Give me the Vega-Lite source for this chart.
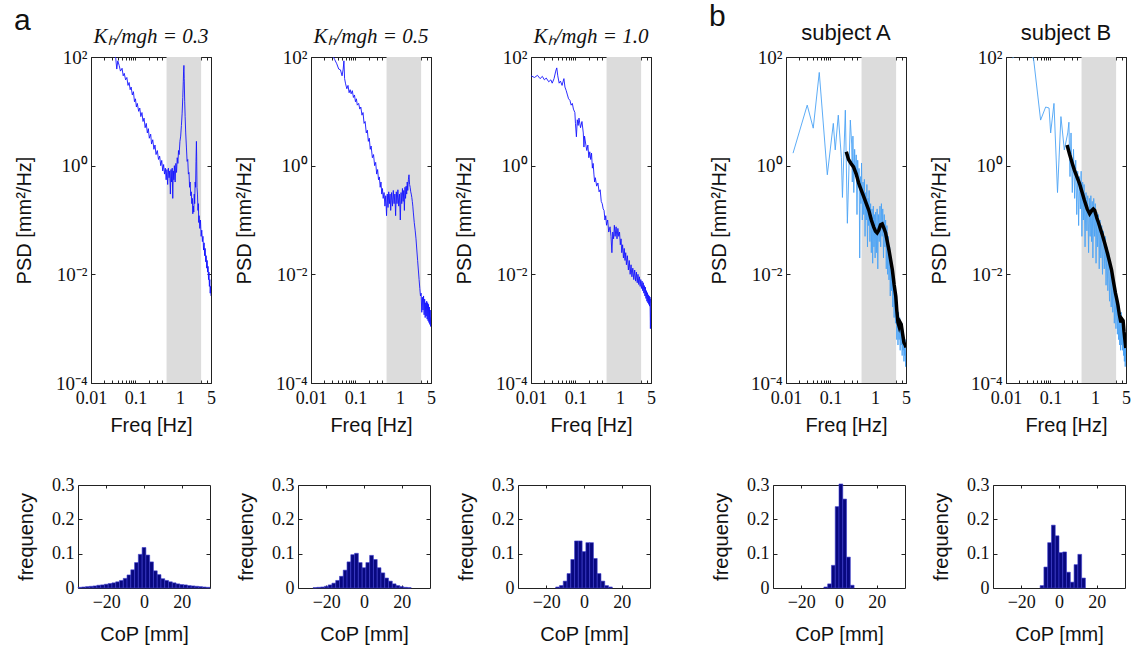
{
 "$schema": "https://vega.github.io/schema/vega-lite/v6.json",
 "padding": {"left": 14, "top": 2, "right": 0, "bottom": 2},
 "background": "white",
 "config": {
  "view": {"stroke": null},
  "axis": {"grid": false, "domainColor": "#222", "tickColor": "#222", "labelFont": "Liberation Serif", "labelFontSize": 18, "labelColor": "#111", "titleFont": "Liberation Sans", "titleFontSize": 20, "titleFontWeight": "normal", "titleColor": "#111", "labelFlush": false, "labelOverlap": false},
  "title": {"font": "Liberation Sans", "fontWeight": "normal", "color": "#111"}
 },
 "datasets": {
  "band": [{"lo": 0.5, "hi": 3}],
  "psd1": [{"f":0.01,"p":900},{"f":0.015,"p":500},{"f":0.02,"p":350},{"f":0.025,"p":220},{"f":0.03,"p":140},{"f":0.033,"p":110},{"f":0.036,"p":95},{"f":0.038,"p":60},{"f":0.04,"p":85},{"f":0.043,"p":70},{"f":0.046,"p":55},{"f":0.05,"p":62},{"f":0.053,"p":45},{"f":0.056,"p":50},{"f":0.06,"p":38},{"f":0.064,"p":42},{"f":0.068,"p":30},{"f":0.072,"p":34},{"f":0.076,"p":25},{"f":0.08,"p":28},{"f":0.085,"p":20},{"f":0.09,"p":23},{"f":0.095,"p":15},{"f":0.1,"p":17},{"f":0.105,"p":12},{"f":0.11,"p":14},{"f":0.118,"p":10},{"f":0.125,"p":11.5},{"f":0.132,"p":8},{"f":0.14,"p":9.5},{"f":0.148,"p":6.5},{"f":0.156,"p":7.5},{"f":0.165,"p":5},{"f":0.175,"p":6},{"f":0.185,"p":4},{"f":0.195,"p":4.8},{"f":0.205,"p":3.2},{"f":0.22,"p":3.8},{"f":0.23,"p":2.5},{"f":0.245,"p":3},{"f":0.26,"p":2},{"f":0.275,"p":2.4},{"f":0.29,"p":1.6},{"f":0.31,"p":1.9},{"f":0.33,"p":1.3},{"f":0.35,"p":1.5},{"f":0.37,"p":1},{"f":0.39,"p":1.25},{"f":0.41,"p":0.8},{"f":0.43,"p":1.05},{"f":0.45,"p":0.7},{"f":0.47,"p":0.9},{"f":0.49,"p":0.55},{"f":0.51,"p":0.85},{"f":0.53,"p":0.45},{"f":0.55,"p":0.9},{"f":0.57,"p":0.6},{"f":0.59,"p":0.8},{"f":0.61,"p":0.3},{"f":0.63,"p":0.85},{"f":0.65,"p":0.5},{"f":0.67,"p":0.9},{"f":0.69,"p":0.25},{"f":0.71,"p":0.8},{"f":0.73,"p":0.55},{"f":0.75,"p":1},{"f":0.78,"p":0.5},{"f":0.81,"p":1.1},{"f":0.84,"p":0.75},{"f":0.87,"p":1.4},{"f":0.9,"p":1.1},{"f":0.93,"p":1.9},{"f":0.96,"p":1.6},{"f":1,"p":2.8},{"f":1.04,"p":3.5},{"f":1.08,"p":5.5},{"f":1.12,"p":9},{"f":1.16,"p":18},{"f":1.19,"p":35},{"f":1.21,"p":55},{"f":1.23,"p":70},{"f":1.25,"p":40},{"f":1.28,"p":15},{"f":1.31,"p":8},{"f":1.35,"p":4},{"f":1.4,"p":2.2},{"f":1.45,"p":1.2},{"f":1.5,"p":1.3},{"f":1.55,"p":0.7},{"f":1.6,"p":0.75},{"f":1.65,"p":0.4},{"f":1.7,"p":0.5},{"f":1.75,"p":0.28},{"f":1.8,"p":0.33},{"f":1.85,"p":0.2},{"f":1.9,"p":0.25},{"f":1.95,"p":0.13},{"f":2,"p":0.18},{"f":2.05,"p":0.14},{"f":2.1,"p":0.3},{"f":2.15,"p":0.2},{"f":2.2,"p":0.5},{"f":2.25,"p":0.4},{"f":2.3,"p":1.2},{"f":2.35,"p":2.8},{"f":2.38,"p":1.5},{"f":2.42,"p":0.4},{"f":2.48,"p":0.3},{"f":2.55,"p":0.15},{"f":2.6,"p":0.2},{"f":2.65,"p":0.09},{"f":2.7,"p":0.12},{"f":2.8,"p":0.07},{"f":2.9,"p":0.1},{"f":3,"p":0.05},{"f":3.1,"p":0.065},{"f":3.2,"p":0.04},{"f":3.3,"p":0.05},{"f":3.4,"p":0.028},{"f":3.5,"p":0.038},{"f":3.6,"p":0.022},{"f":3.7,"p":0.03},{"f":3.8,"p":0.017},{"f":3.9,"p":0.022},{"f":4,"p":0.013},{"f":4.1,"p":0.018},{"f":4.2,"p":0.011},{"f":4.3,"p":0.014},{"f":4.4,"p":0.008},{"f":4.5,"p":0.011},{"f":4.6,"p":0.006},{"f":4.7,"p":0.008},{"f":4.8,"p":0.0045},{"f":4.9,"p":0.006},{"f":5,"p":0.004}],
  "psd2": [{"f":0.01,"p":600},{"f":0.015,"p":350},{"f":0.02,"p":250},{"f":0.025,"p":160},{"f":0.03,"p":110},{"f":0.034,"p":90},{"f":0.038,"p":75},{"f":0.042,"p":60},{"f":0.046,"p":58},{"f":0.05,"p":45},{"f":0.053,"p":60},{"f":0.055,"p":85},{"f":0.057,"p":40},{"f":0.06,"p":32},{"f":0.064,"p":26},{"f":0.068,"p":30},{"f":0.072,"p":22},{"f":0.076,"p":25},{"f":0.08,"p":21},{"f":0.085,"p":24},{"f":0.09,"p":18},{"f":0.095,"p":20},{"f":0.1,"p":15},{"f":0.105,"p":17},{"f":0.11,"p":13},{"f":0.118,"p":14},{"f":0.125,"p":11},{"f":0.132,"p":12},{"f":0.14,"p":8.5},{"f":0.148,"p":9.5},{"f":0.156,"p":6},{"f":0.165,"p":6.5},{"f":0.175,"p":4},{"f":0.185,"p":4.5},{"f":0.195,"p":2.8},{"f":0.205,"p":3.2},{"f":0.215,"p":2},{"f":0.225,"p":2.3},{"f":0.24,"p":1.4},{"f":0.255,"p":1.6},{"f":0.27,"p":1},{"f":0.285,"p":1.15},{"f":0.3,"p":0.7},{"f":0.315,"p":0.85},{"f":0.33,"p":0.55},{"f":0.345,"p":0.62},{"f":0.36,"p":0.4},{"f":0.375,"p":0.5},{"f":0.39,"p":0.3},{"f":0.405,"p":0.38},{"f":0.42,"p":0.25},{"f":0.44,"p":0.32},{"f":0.46,"p":0.18},{"f":0.48,"p":0.28},{"f":0.5,"p":0.12},{"f":0.52,"p":0.3},{"f":0.54,"p":0.17},{"f":0.56,"p":0.33},{"f":0.58,"p":0.2},{"f":0.6,"p":0.3},{"f":0.62,"p":0.15},{"f":0.65,"p":0.32},{"f":0.68,"p":0.18},{"f":0.71,"p":0.35},{"f":0.74,"p":0.2},{"f":0.77,"p":0.3},{"f":0.8,"p":0.12},{"f":0.83,"p":0.33},{"f":0.86,"p":0.2},{"f":0.9,"p":0.36},{"f":0.94,"p":0.18},{"f":0.98,"p":0.3},{"f":1.02,"p":0.1},{"f":1.06,"p":0.32},{"f":1.1,"p":0.2},{"f":1.14,"p":0.38},{"f":1.18,"p":0.22},{"f":1.22,"p":0.35},{"f":1.26,"p":0.15},{"f":1.3,"p":0.4},{"f":1.34,"p":0.25},{"f":1.38,"p":0.42},{"f":1.42,"p":0.3},{"f":1.46,"p":0.5},{"f":1.5,"p":0.35},{"f":1.55,"p":0.55},{"f":1.6,"p":0.68},{"f":1.65,"p":0.45},{"f":1.7,"p":0.4},{"f":1.75,"p":0.33},{"f":1.8,"p":0.3},{"f":1.85,"p":0.26},{"f":1.9,"p":0.22},{"f":1.95,"p":0.18},{"f":2,"p":0.14},{"f":2.1,"p":0.09},{"f":2.2,"p":0.065},{"f":2.3,"p":0.045},{"f":2.4,"p":0.028},{"f":2.5,"p":0.018},{"f":2.6,"p":0.012},{"f":2.7,"p":0.008},{"f":2.8,"p":0.0055},{"f":2.9,"p":0.004},{"f":3,"p":0.0045},{"f":3.1,"p":0.002},{"f":3.2,"p":0.0038},{"f":3.3,"p":0.0022},{"f":3.4,"p":0.004},{"f":3.5,"p":0.0018},{"f":3.6,"p":0.0035},{"f":3.7,"p":0.0016},{"f":3.8,"p":0.003},{"f":3.9,"p":0.0017},{"f":4,"p":0.0032},{"f":4.1,"p":0.0015},{"f":4.2,"p":0.003},{"f":4.3,"p":0.0014},{"f":4.4,"p":0.0028},{"f":4.5,"p":0.0013},{"f":4.6,"p":0.0025},{"f":4.7,"p":0.0012},{"f":4.8,"p":0.0022},{"f":4.9,"p":0.0011},{"f":5,"p":0.0016}],
  "psd3": [{"f":0.01,"p":45},{"f":0.012,"p":42},{"f":0.014,"p":46},{"f":0.016,"p":40},{"f":0.018,"p":44},{"f":0.02,"p":38},{"f":0.022,"p":41},{"f":0.025,"p":35},{"f":0.028,"p":38},{"f":0.03,"p":33},{"f":0.033,"p":40},{"f":0.036,"p":55},{"f":0.038,"p":63},{"f":0.04,"p":45},{"f":0.043,"p":33},{"f":0.046,"p":36},{"f":0.05,"p":30},{"f":0.053,"p":36},{"f":0.055,"p":40},{"f":0.058,"p":28},{"f":0.062,"p":24},{"f":0.066,"p":20},{"f":0.07,"p":17},{"f":0.075,"p":16},{"f":0.08,"p":13},{"f":0.085,"p":14},{"f":0.09,"p":11},{"f":0.097,"p":9.5},{"f":0.1,"p":6},{"f":0.105,"p":3.4},{"f":0.11,"p":7},{"f":0.115,"p":5.5},{"f":0.12,"p":7.5},{"f":0.13,"p":5},{"f":0.14,"p":6.5},{"f":0.15,"p":4},{"f":0.155,"p":2.2},{"f":0.16,"p":3.5},{"f":0.17,"p":2.5},{"f":0.18,"p":1.9},{"f":0.19,"p":2.4},{"f":0.2,"p":1.4},{"f":0.21,"p":1.8},{"f":0.22,"p":1.3},{"f":0.23,"p":1.7},{"f":0.24,"p":0.9},{"f":0.25,"p":1.1},{"f":0.26,"p":0.7},{"f":0.27,"p":0.5},{"f":0.28,"p":0.6},{"f":0.3,"p":0.42},{"f":0.32,"p":0.48},{"f":0.34,"p":0.33},{"f":0.36,"p":0.36},{"f":0.38,"p":0.22},{"f":0.4,"p":0.2},{"f":0.42,"p":0.16},{"f":0.44,"p":0.15},{"f":0.46,"p":0.1},{"f":0.48,"p":0.12},{"f":0.5,"p":0.08},{"f":0.53,"p":0.1},{"f":0.56,"p":0.06},{"f":0.6,"p":0.075},{"f":0.63,"p":0.05},{"f":0.66,"p":0.025},{"f":0.69,"p":0.06},{"f":0.72,"p":0.045},{"f":0.75,"p":0.08},{"f":0.78,"p":0.05},{"f":0.82,"p":0.075},{"f":0.86,"p":0.045},{"f":0.9,"p":0.07},{"f":0.94,"p":0.05},{"f":0.98,"p":0.06},{"f":1.02,"p":0.035},{"f":1.06,"p":0.045},{"f":1.1,"p":0.025},{"f":1.15,"p":0.035},{"f":1.2,"p":0.02},{"f":1.25,"p":0.03},{"f":1.3,"p":0.018},{"f":1.35,"p":0.025},{"f":1.4,"p":0.015},{"f":1.47,"p":0.022},{"f":1.55,"p":0.012},{"f":1.62,"p":0.018},{"f":1.7,"p":0.01},{"f":1.78,"p":0.015},{"f":1.86,"p":0.009},{"f":1.95,"p":0.013},{"f":2.05,"p":0.008},{"f":2.15,"p":0.012},{"f":2.25,"p":0.0075},{"f":2.35,"p":0.011},{"f":2.45,"p":0.007},{"f":2.55,"p":0.01},{"f":2.65,"p":0.0065},{"f":2.75,"p":0.009},{"f":2.85,"p":0.006},{"f":2.95,"p":0.008},{"f":3.05,"p":0.0055},{"f":3.15,"p":0.0075},{"f":3.25,"p":0.005},{"f":3.35,"p":0.007},{"f":3.45,"p":0.0045},{"f":3.55,"p":0.0062},{"f":3.65,"p":0.004},{"f":3.75,"p":0.0058},{"f":3.85,"p":0.0036},{"f":3.95,"p":0.005},{"f":4.05,"p":0.0032},{"f":4.15,"p":0.0046},{"f":4.25,"p":0.003},{"f":4.35,"p":0.0042},{"f":4.45,"p":0.0028},{"f":4.55,"p":0.004},{"f":4.65,"p":0.0026},{"f":4.75,"p":0.0038},{"f":4.85,"p":0.001},{"f":4.95,"p":0.0035},{"f":5,"p":0.003}],
  "psdA": [{"f":0.0144,"p":1.7},{"f":0.03,"p":13},{"f":0.041,"p":4.9},{"f":0.056,"p":52},{"f":0.085,"p":0.68},{"f":0.116,"p":6},{"f":0.128,"p":1.95},{"f":0.15,"p":8.5},{"f":0.176,"p":1.4},{"f":0.186,"p":0.26},{"f":0.216,"p":10.5},{"f":0.24,"p":0.087},{"f":0.28,"p":6.9},{"f":0.3,"p":2.5},{"f":0.31,"p":0.5},{"f":0.32,"p":3.5},{"f":0.335,"p":0.32},{"f":0.35,"p":2},{"f":0.365,"p":0.63},{"f":0.38,"p":1.58},{"f":0.395,"p":0.126},{"f":0.41,"p":1.26},{"f":0.425,"p":0.4},{"f":0.44,"p":0.89},{"f":0.455,"p":0.02},{"f":0.47,"p":0.63},{"f":0.485,"p":0.2},{"f":0.5,"p":1.12},{"f":0.52,"p":0.1},{"f":0.54,"p":0.5},{"f":0.56,"p":0.126},{"f":0.58,"p":0.56},{"f":0.6,"p":0.05},{"f":0.62,"p":0.32},{"f":0.64,"p":0.1},{"f":0.66,"p":0.45},{"f":0.68,"p":0.032},{"f":0.7,"p":0.25},{"f":0.72,"p":0.079},{"f":0.74,"p":0.35},{"f":0.77,"p":0.04},{"f":0.8,"p":0.2},{"f":0.83,"p":0.025},{"f":0.86,"p":0.16},{"f":0.89,"p":0.016},{"f":0.92,"p":0.18},{"f":0.95,"p":0.032},{"f":0.98,"p":0.126},{"f":1.01,"p":0.02},{"f":1.04,"p":0.14},{"f":1.08,"p":0.025},{"f":1.12,"p":0.16},{"f":1.16,"p":0.0126},{"f":1.2,"p":0.126},{"f":1.25,"p":0.04},{"f":1.3,"p":0.18},{"f":1.35,"p":0.032},{"f":1.4,"p":0.2},{"f":1.45,"p":0.05},{"f":1.5,"p":0.16},{"f":1.56,"p":0.02},{"f":1.62,"p":0.126},{"f":1.68,"p":0.032},{"f":1.74,"p":0.1},{"f":1.8,"p":0.0126},{"f":1.86,"p":0.079},{"f":1.93,"p":0.01},{"f":2,"p":0.05},{"f":2.07,"p":0.0079},{"f":2.14,"p":0.032},{"f":2.21,"p":0.004},{"f":2.28,"p":0.02},{"f":2.36,"p":0.005},{"f":2.44,"p":0.016},{"f":2.52,"p":0.0025},{"f":2.6,"p":0.01},{"f":2.7,"p":0.0016},{"f":2.8,"p":0.0063},{"f":2.9,"p":0.00126},{"f":3,"p":0.0032},{"f":3.1,"p":0.00063},{"f":3.2,"p":0.0025},{"f":3.3,"p":0.0005},{"f":3.4,"p":0.002},{"f":3.5,"p":0.00063},{"f":3.6,"p":0.0016},{"f":3.7,"p":0.0004},{"f":3.8,"p":0.00126},{"f":3.9,"p":0.0005},{"f":4,"p":0.00126},{"f":4.1,"p":0.00032},{"f":4.2,"p":0.001},{"f":4.3,"p":0.0004},{"f":4.4,"p":0.00079},{"f":4.5,"p":0.00025},{"f":4.6,"p":0.00063},{"f":4.7,"p":0.00032},{"f":4.8,"p":0.00063},{"f":4.9,"p":0.0002},{"f":5,"p":0.0004}],
  "smoothA": [{"f":0.227,"p":1.8},{"f":0.255,"p":1.3},{"f":0.29,"p":1.1},{"f":0.33,"p":0.95},{"f":0.38,"p":0.7},{"f":0.43,"p":0.48},{"f":0.49,"p":0.36},{"f":0.56,"p":0.27},{"f":0.64,"p":0.2},{"f":0.73,"p":0.15},{"f":0.83,"p":0.1},{"f":0.94,"p":0.074},{"f":1.03,"p":0.062},{"f":1.12,"p":0.058},{"f":1.22,"p":0.065},{"f":1.34,"p":0.082},{"f":1.46,"p":0.085},{"f":1.6,"p":0.07},{"f":1.74,"p":0.058},{"f":1.9,"p":0.04},{"f":2.07,"p":0.028},{"f":2.27,"p":0.018},{"f":2.47,"p":0.012},{"f":2.7,"p":0.0065},{"f":2.95,"p":0.0039},{"f":3.1,"p":0.0022},{"f":3.3,"p":0.0013},{"f":3.5,"p":0.0011},{"f":3.7,"p":0.0013},{"f":3.9,"p":0.0012},{"f":4.2,"p":0.0008},{"f":4.5,"p":0.00055},{"f":4.8,"p":0.0005},{"f":5,"p":0.00045}],
  "psdB": [{"f":0.0142,"p":95},{"f":0.02,"p":180},{"f":0.028,"p":250},{"f":0.035,"p":140},{"f":0.042,"p":88},{"f":0.06,"p":6.9},{"f":0.078,"p":12},{"f":0.093,"p":11.5},{"f":0.101,"p":4},{"f":0.12,"p":14},{"f":0.144,"p":0.32},{"f":0.172,"p":8},{"f":0.205,"p":1.95},{"f":0.245,"p":4},{"f":0.26,"p":6.3},{"f":0.275,"p":0.63},{"f":0.29,"p":4},{"f":0.31,"p":0.32},{"f":0.33,"p":2},{"f":0.35,"p":0.25},{"f":0.37,"p":1.26},{"f":0.39,"p":0.126},{"f":0.41,"p":0.79},{"f":0.43,"p":0.079},{"f":0.45,"p":0.63},{"f":0.47,"p":0.16},{"f":0.49,"p":0.79},{"f":0.51,"p":0.05},{"f":0.53,"p":0.5},{"f":0.55,"p":0.1},{"f":0.57,"p":0.45},{"f":0.6,"p":0.032},{"f":0.63,"p":0.32},{"f":0.66,"p":0.063},{"f":0.69,"p":0.28},{"f":0.72,"p":0.025},{"f":0.75,"p":0.25},{"f":0.78,"p":0.05},{"f":0.81,"p":0.28},{"f":0.84,"p":0.04},{"f":0.87,"p":0.22},{"f":0.9,"p":0.02},{"f":0.94,"p":0.25},{"f":0.98,"p":0.05},{"f":1.02,"p":0.2},{"f":1.06,"p":0.016},{"f":1.1,"p":0.14},{"f":1.15,"p":0.032},{"f":1.2,"p":0.126},{"f":1.25,"p":0.0126},{"f":1.3,"p":0.1},{"f":1.36,"p":0.02},{"f":1.42,"p":0.079},{"f":1.48,"p":0.01},{"f":1.55,"p":0.063},{"f":1.62,"p":0.0126},{"f":1.7,"p":0.05},{"f":1.78,"p":0.0063},{"f":1.86,"p":0.032},{"f":1.95,"p":0.005},{"f":2.04,"p":0.025},{"f":2.13,"p":0.0032},{"f":2.22,"p":0.016},{"f":2.32,"p":0.0025},{"f":2.42,"p":0.01},{"f":2.52,"p":0.002},{"f":2.62,"p":0.0079},{"f":2.73,"p":0.00126},{"f":2.85,"p":0.005},{"f":2.97,"p":0.001},{"f":3.1,"p":0.004},{"f":3.2,"p":0.00079},{"f":3.3,"p":0.0032},{"f":3.4,"p":0.00063},{"f":3.5,"p":0.0025},{"f":3.6,"p":0.0005},{"f":3.7,"p":0.0016},{"f":3.8,"p":0.0004},{"f":3.9,"p":0.002},{"f":4,"p":0.0005},{"f":4.1,"p":0.0016},{"f":4.2,"p":0.0004},{"f":4.3,"p":0.00126},{"f":4.4,"p":0.00032},{"f":4.5,"p":0.001},{"f":4.6,"p":0.00025},{"f":4.7,"p":0.00079},{"f":4.8,"p":0.0002},{"f":4.9,"p":0.0005},{"f":5,"p":0.00025}],
  "smoothB": [{"f":0.236,"p":2.4},{"f":0.27,"p":1.6},{"f":0.31,"p":1.1},{"f":0.345,"p":0.83},{"f":0.4,"p":0.6},{"f":0.45,"p":0.47},{"f":0.51,"p":0.33},{"f":0.58,"p":0.23},{"f":0.67,"p":0.16},{"f":0.76,"p":0.13},{"f":0.85,"p":0.15},{"f":0.92,"p":0.16},{"f":0.99,"p":0.15},{"f":1.1,"p":0.11},{"f":1.2,"p":0.09},{"f":1.29,"p":0.074},{"f":1.45,"p":0.055},{"f":1.67,"p":0.037},{"f":1.9,"p":0.025},{"f":2.1,"p":0.018},{"f":2.37,"p":0.012},{"f":2.6,"p":0.0075},{"f":2.9,"p":0.0045},{"f":3.1,"p":0.0035},{"f":3.3,"p":0.0027},{"f":3.55,"p":0.0018},{"f":3.84,"p":0.0013},{"f":4.05,"p":0.0015},{"f":4.3,"p":0.0014},{"f":4.5,"p":0.0009},{"f":4.75,"p":0.0006},{"f":4.95,"p":0.00044}],
  "h1": [{"lo":-35,"hi":-33,"v":0.002},{"lo":-33,"hi":-31,"v":0.003},{"lo":-31,"hi":-29,"v":0.004},{"lo":-29,"hi":-27,"v":0.005},{"lo":-27,"hi":-25,"v":0.006},{"lo":-25,"hi":-23,"v":0.008},{"lo":-23,"hi":-21,"v":0.009},{"lo":-21,"hi":-19,"v":0.011},{"lo":-19,"hi":-17,"v":0.013},{"lo":-17,"hi":-15,"v":0.015},{"lo":-15,"hi":-13,"v":0.018},{"lo":-13,"hi":-11,"v":0.022},{"lo":-11,"hi":-9,"v":0.028},{"lo":-9,"hi":-7,"v":0.038},{"lo":-7,"hi":-5,"v":0.053},{"lo":-5,"hi":-3,"v":0.074},{"lo":-3,"hi":-1,"v":0.098},{"lo":-1,"hi":1,"v":0.118},{"lo":1,"hi":3,"v":0.096},{"lo":3,"hi":5,"v":0.076},{"lo":5,"hi":7,"v":0.05},{"lo":7,"hi":9,"v":0.039},{"lo":9,"hi":11,"v":0.027},{"lo":11,"hi":13,"v":0.022},{"lo":13,"hi":15,"v":0.018},{"lo":15,"hi":17,"v":0.015},{"lo":17,"hi":19,"v":0.012},{"lo":19,"hi":21,"v":0.01},{"lo":21,"hi":23,"v":0.009},{"lo":23,"hi":25,"v":0.007},{"lo":25,"hi":27,"v":0.006},{"lo":27,"hi":29,"v":0.005},{"lo":29,"hi":31,"v":0.004},{"lo":31,"hi":33,"v":0.003},{"lo":33,"hi":35,"v":0.002}],
  "h2": [{"lo":-27,"hi":-25,"v":0.001},{"lo":-25,"hi":-23,"v":0.002},{"lo":-23,"hi":-21,"v":0.003},{"lo":-21,"hi":-19,"v":0.005},{"lo":-19,"hi":-17,"v":0.009},{"lo":-17,"hi":-15,"v":0.014},{"lo":-15,"hi":-13,"v":0.022},{"lo":-13,"hi":-11,"v":0.034},{"lo":-11,"hi":-9,"v":0.052},{"lo":-9,"hi":-7,"v":0.076},{"lo":-7,"hi":-5,"v":0.097},{"lo":-5,"hi":-3,"v":0.101},{"lo":-3,"hi":-1,"v":0.074},{"lo":-1,"hi":1,"v":0.059},{"lo":1,"hi":3,"v":0.074},{"lo":3,"hi":5,"v":0.095},{"lo":5,"hi":7,"v":0.083},{"lo":7,"hi":9,"v":0.059},{"lo":9,"hi":11,"v":0.044},{"lo":11,"hi":13,"v":0.029},{"lo":13,"hi":15,"v":0.02},{"lo":15,"hi":17,"v":0.012},{"lo":17,"hi":19,"v":0.007},{"lo":19,"hi":21,"v":0.004},{"lo":21,"hi":23,"v":0.002},{"lo":23,"hi":25,"v":0.001}],
  "h3": [{"lo":-15,"hi":-13,"v":0.003},{"lo":-13,"hi":-11,"v":0.007},{"lo":-11,"hi":-9,"v":0.02},{"lo":-9,"hi":-7,"v":0.042},{"lo":-7,"hi":-5,"v":0.083},{"lo":-5,"hi":-3,"v":0.137},{"lo":-3,"hi":-1,"v":0.137},{"lo":-1,"hi":1,"v":0.106},{"lo":1,"hi":3,"v":0.132},{"lo":3,"hi":5,"v":0.132},{"lo":5,"hi":7,"v":0.086},{"lo":7,"hi":9,"v":0.042},{"lo":9,"hi":11,"v":0.02},{"lo":11,"hi":13,"v":0.007},{"lo":13,"hi":15,"v":0.003}],
  "h4": [{"lo":-8,"hi":-6,"v":0.003},{"lo":-6,"hi":-4,"v":0.012},{"lo":-4,"hi":-2,"v":0.066},{"lo":-2,"hi":0,"v":0.237},{"lo":0,"hi":2,"v":0.303},{"lo":2,"hi":4,"v":0.259},{"lo":4,"hi":6,"v":0.09},{"lo":6,"hi":8,"v":0.008}],
  "h5": [{"lo":-10,"hi":-8,"v":0.007},{"lo":-8,"hi":-6,"v":0.061},{"lo":-6,"hi":-4,"v":0.132},{"lo":-4,"hi":-2,"v":0.183},{"lo":-2,"hi":0,"v":0.152},{"lo":0,"hi":2,"v":0.103},{"lo":2,"hi":4,"v":0.105},{"lo":4,"hi":6,"v":0.046},{"lo":6,"hi":8,"v":0.017},{"lo":8,"hi":10,"v":0.068},{"lo":10,"hi":12,"v":0.098},{"lo":12,"hi":14,"v":0.029}]
 },
 "spacing": 46,
 "hconcat": [
  {
   "title": {"text": "a", "font": "Liberation Sans", "fontSize": 30, "fontWeight": "normal", "anchor": "start", "offset": -10, "color": "#111"},
   "spacing": 11,
   "hconcat": [
    {"columns": 1, "align": "none", "spacing": 41, "concat": [
     {"width": 120, "height": 326,
      "title": {"text": "Kₕ/mgh = 0.3", "font": "Liberation Serif", "fontStyle": "italic", "fontSize": 21, "fontWeight": "normal", "offset": 1, "color": "#111"},
      "layer": [
       {"data": {"name": "band"}, "mark": {"type": "rect", "color": "#dcdcdc"}, "encoding": {"x": {"field": "lo", "type": "quantitative", "scale": {"type": "log", "domain": [0.01, 5], "nice": false}, "axis": null}, "x2": {"field": "hi"}}},
       {"data": {"name": "psd1"}, "mark": {"type": "line", "color": "#1414ff", "strokeWidth": 0.9, "clip": true}, "encoding": {"x": {"field": "f", "type": "quantitative", "axis": {"orient": "bottom", "values": [0.01,0.02,0.03,0.04,0.05,0.06,0.07,0.08,0.09,0.1,0.2,0.3,0.4,0.5,0.6,0.7,0.8,0.9,1,2,3,4,5], "labelExpr": "datum.value == 0.01 ? '0.01' : datum.value == 0.1 ? '0.1' : datum.value == 1 ? '1' : datum.value == 5 ? '5' : ''", "tickSize": -3, "labelPadding": 9, "title": "Freq [Hz]", "titlePadding": 8}}, "y": {"field": "p", "type": "quantitative", "scale": {"type": "log", "domain": [0.0001, 100], "nice": false}, "axis": {"orient": "left", "values": [0.0001, 0.01, 1, 100], "labelExpr": "datum.value > 50 ? '10²' : datum.value > 0.5 ? '10⁰' : datum.value > 0.005 ? '10⁻²' : '10⁻⁴'", "labelFontSize": 19, "tickSize": -4, "labelPadding": 8, "title": "PSD [mm²/Hz]", "titlePadding": 17, "minExtent": 40, "maxExtent": 40}}}},
       {"data": {"name": "psd1"}, "mark": {"type": "line", "opacity": 0, "clip": true}, "encoding": {"x": {"field": "f", "type": "quantitative", "axis": {"orient": "top", "values": [0.01,0.02,0.03,0.04,0.05,0.06,0.07,0.08,0.09,0.1,0.2,0.3,0.4,0.5,0.6,0.7,0.8,0.9,1,2,3,4,5], "labels": false, "tickSize": -3, "title": null, "minExtent": 0, "maxExtent": 0}}, "y": {"field": "p", "type": "quantitative", "axis": {"orient": "right", "values": [0.0001, 0.01, 1, 100], "labels": false, "tickSize": -4, "title": null, "minExtent": 0, "maxExtent": 0}}}}
      ],
      "resolve": {"axis": {"x": "independent", "y": "independent"}}
     },
     {"width": 119, "height": 103,
      "layer": [
       {"data": {"name": "h1"}, "mark": {"type": "rect", "color": "#08087f", "stroke": "#3d3dd0", "strokeWidth": 0.6}, "encoding": {"x": {"field": "lo", "type": "quantitative", "scale": {"domain": [-35, 35], "range": [-13, 119], "nice": false, "zero": false}, "axis": {"orient": "bottom", "values": [-20, 0, 20], "tickSize": -3, "labelPadding": 8, "title": "CoP [mm]", "titlePadding": 13}}, "x2": {"field": "hi"}, "y": {"field": "v", "type": "quantitative", "scale": {"domain": [0, 0.3], "nice": false}, "axis": {"orient": "left", "offset": 13, "values": [0, 0.1, 0.2, 0.3], "format": "~g", "tickSize": -4, "labelPadding": 8, "title": "frequency", "titlePadding": 14, "minExtent": 28, "maxExtent": 28}}, "y2": {"datum": 0}}},
       {"data": {"name": "h1"}, "mark": {"type": "point", "opacity": 0}, "encoding": {"x": {"field": "lo", "type": "quantitative", "axis": {"orient": "top", "values": [-20, 0, 20], "labels": false, "tickSize": -3, "title": null, "minExtent": 0, "maxExtent": 0}}, "y": {"field": "v", "type": "quantitative", "axis": {"orient": "right", "values": [0.1, 0.2], "labels": false, "tickSize": -4, "title": null, "minExtent": 0, "maxExtent": 0}}}}
      ],
      "resolve": {"axis": {"x": "independent", "y": "independent"}}
     }
    ]},
    {"columns": 1, "align": "none", "spacing": 41, "concat": [
     {"width": 120, "height": 326,
      "title": {"text": "Kₕ/mgh = 0.5", "font": "Liberation Serif", "fontStyle": "italic", "fontSize": 21, "fontWeight": "normal", "offset": 1, "color": "#111"},
      "layer": [
       {"data": {"name": "band"}, "mark": {"type": "rect", "color": "#dcdcdc"}, "encoding": {"x": {"field": "lo", "type": "quantitative", "scale": {"type": "log", "domain": [0.01, 5], "nice": false}, "axis": null}, "x2": {"field": "hi"}}},
       {"data": {"name": "psd2"}, "mark": {"type": "line", "color": "#1414ff", "strokeWidth": 0.9, "clip": true}, "encoding": {"x": {"field": "f", "type": "quantitative", "axis": {"orient": "bottom", "values": [0.01,0.02,0.03,0.04,0.05,0.06,0.07,0.08,0.09,0.1,0.2,0.3,0.4,0.5,0.6,0.7,0.8,0.9,1,2,3,4,5], "labelExpr": "datum.value == 0.01 ? '0.01' : datum.value == 0.1 ? '0.1' : datum.value == 1 ? '1' : datum.value == 5 ? '5' : ''", "tickSize": -3, "labelPadding": 9, "title": "Freq [Hz]", "titlePadding": 8}}, "y": {"field": "p", "type": "quantitative", "scale": {"type": "log", "domain": [0.0001, 100], "nice": false}, "axis": {"orient": "left", "values": [0.0001, 0.01, 1, 100], "labelExpr": "datum.value > 50 ? '10²' : datum.value > 0.5 ? '10⁰' : datum.value > 0.005 ? '10⁻²' : '10⁻⁴'", "labelFontSize": 19, "tickSize": -4, "labelPadding": 8, "title": "PSD [mm²/Hz]", "titlePadding": 17, "minExtent": 40, "maxExtent": 40}}}},
       {"data": {"name": "psd2"}, "mark": {"type": "line", "opacity": 0, "clip": true}, "encoding": {"x": {"field": "f", "type": "quantitative", "axis": {"orient": "top", "values": [0.01,0.02,0.03,0.04,0.05,0.06,0.07,0.08,0.09,0.1,0.2,0.3,0.4,0.5,0.6,0.7,0.8,0.9,1,2,3,4,5], "labels": false, "tickSize": -3, "title": null, "minExtent": 0, "maxExtent": 0}}, "y": {"field": "p", "type": "quantitative", "axis": {"orient": "right", "values": [0.0001, 0.01, 1, 100], "labels": false, "tickSize": -4, "title": null, "minExtent": 0, "maxExtent": 0}}}}
      ],
      "resolve": {"axis": {"x": "independent", "y": "independent"}}
     },
     {"width": 119, "height": 103,
      "layer": [
       {"data": {"name": "h2"}, "mark": {"type": "rect", "color": "#08087f", "stroke": "#3d3dd0", "strokeWidth": 0.6}, "encoding": {"x": {"field": "lo", "type": "quantitative", "scale": {"domain": [-35, 35], "range": [-13, 119], "nice": false, "zero": false}, "axis": {"orient": "bottom", "values": [-20, 0, 20], "tickSize": -3, "labelPadding": 8, "title": "CoP [mm]", "titlePadding": 13}}, "x2": {"field": "hi"}, "y": {"field": "v", "type": "quantitative", "scale": {"domain": [0, 0.3], "nice": false}, "axis": {"orient": "left", "offset": 13, "values": [0, 0.1, 0.2, 0.3], "format": "~g", "tickSize": -4, "labelPadding": 8, "title": "frequency", "titlePadding": 14, "minExtent": 28, "maxExtent": 28}}, "y2": {"datum": 0}}},
       {"data": {"name": "h2"}, "mark": {"type": "point", "opacity": 0}, "encoding": {"x": {"field": "lo", "type": "quantitative", "axis": {"orient": "top", "values": [-20, 0, 20], "labels": false, "tickSize": -3, "title": null, "minExtent": 0, "maxExtent": 0}}, "y": {"field": "v", "type": "quantitative", "axis": {"orient": "right", "values": [0.1, 0.2], "labels": false, "tickSize": -4, "title": null, "minExtent": 0, "maxExtent": 0}}}}
      ],
      "resolve": {"axis": {"x": "independent", "y": "independent"}}
     }
    ]},
    {"columns": 1, "align": "none", "spacing": 41, "concat": [
     {"width": 120, "height": 326,
      "title": {"text": "Kₕ/mgh = 1.0", "font": "Liberation Serif", "fontStyle": "italic", "fontSize": 21, "fontWeight": "normal", "offset": 1, "color": "#111"},
      "layer": [
       {"data": {"name": "band"}, "mark": {"type": "rect", "color": "#dcdcdc"}, "encoding": {"x": {"field": "lo", "type": "quantitative", "scale": {"type": "log", "domain": [0.01, 5], "nice": false}, "axis": null}, "x2": {"field": "hi"}}},
       {"data": {"name": "psd3"}, "mark": {"type": "line", "color": "#1414ff", "strokeWidth": 0.9, "clip": true}, "encoding": {"x": {"field": "f", "type": "quantitative", "axis": {"orient": "bottom", "values": [0.01,0.02,0.03,0.04,0.05,0.06,0.07,0.08,0.09,0.1,0.2,0.3,0.4,0.5,0.6,0.7,0.8,0.9,1,2,3,4,5], "labelExpr": "datum.value == 0.01 ? '0.01' : datum.value == 0.1 ? '0.1' : datum.value == 1 ? '1' : datum.value == 5 ? '5' : ''", "tickSize": -3, "labelPadding": 9, "title": "Freq [Hz]", "titlePadding": 8}}, "y": {"field": "p", "type": "quantitative", "scale": {"type": "log", "domain": [0.0001, 100], "nice": false}, "axis": {"orient": "left", "values": [0.0001, 0.01, 1, 100], "labelExpr": "datum.value > 50 ? '10²' : datum.value > 0.5 ? '10⁰' : datum.value > 0.005 ? '10⁻²' : '10⁻⁴'", "labelFontSize": 19, "tickSize": -4, "labelPadding": 8, "title": "PSD [mm²/Hz]", "titlePadding": 17, "minExtent": 40, "maxExtent": 40}}}},
       {"data": {"name": "psd3"}, "mark": {"type": "line", "opacity": 0, "clip": true}, "encoding": {"x": {"field": "f", "type": "quantitative", "axis": {"orient": "top", "values": [0.01,0.02,0.03,0.04,0.05,0.06,0.07,0.08,0.09,0.1,0.2,0.3,0.4,0.5,0.6,0.7,0.8,0.9,1,2,3,4,5], "labels": false, "tickSize": -3, "title": null, "minExtent": 0, "maxExtent": 0}}, "y": {"field": "p", "type": "quantitative", "axis": {"orient": "right", "values": [0.0001, 0.01, 1, 100], "labels": false, "tickSize": -4, "title": null, "minExtent": 0, "maxExtent": 0}}}}
      ],
      "resolve": {"axis": {"x": "independent", "y": "independent"}}
     },
     {"width": 119, "height": 103,
      "layer": [
       {"data": {"name": "h3"}, "mark": {"type": "rect", "color": "#08087f", "stroke": "#3d3dd0", "strokeWidth": 0.6}, "encoding": {"x": {"field": "lo", "type": "quantitative", "scale": {"domain": [-35, 35], "range": [-13, 119], "nice": false, "zero": false}, "axis": {"orient": "bottom", "values": [-20, 0, 20], "tickSize": -3, "labelPadding": 8, "title": "CoP [mm]", "titlePadding": 13}}, "x2": {"field": "hi"}, "y": {"field": "v", "type": "quantitative", "scale": {"domain": [0, 0.3], "nice": false}, "axis": {"orient": "left", "offset": 13, "values": [0, 0.1, 0.2, 0.3], "format": "~g", "tickSize": -4, "labelPadding": 8, "title": "frequency", "titlePadding": 14, "minExtent": 28, "maxExtent": 28}}, "y2": {"datum": 0}}},
       {"data": {"name": "h3"}, "mark": {"type": "point", "opacity": 0}, "encoding": {"x": {"field": "lo", "type": "quantitative", "axis": {"orient": "top", "values": [-20, 0, 20], "labels": false, "tickSize": -3, "title": null, "minExtent": 0, "maxExtent": 0}}, "y": {"field": "v", "type": "quantitative", "axis": {"orient": "right", "values": [0.1, 0.2], "labels": false, "tickSize": -4, "title": null, "minExtent": 0, "maxExtent": 0}}}}
      ],
      "resolve": {"axis": {"x": "independent", "y": "independent"}}
     }
    ]}
   ]
  },
  {
   "title": {"text": "b", "font": "Liberation Sans", "fontSize": 30, "fontWeight": "normal", "anchor": "start", "offset": -10, "color": "#111"},
   "spacing": 11,
   "hconcat": [
    {"columns": 1, "align": "none", "spacing": 41, "concat": [
     {"width": 120, "height": 326,
      "title": {"text": "subject A", "font": "Liberation Sans", "fontSize": 22, "fontWeight": "normal", "offset": 3, "color": "#111"},
      "layer": [
       {"data": {"name": "band"}, "mark": {"type": "rect", "color": "#dcdcdc"}, "encoding": {"x": {"field": "lo", "type": "quantitative", "scale": {"type": "log", "domain": [0.01, 5], "nice": false}, "axis": null}, "x2": {"field": "hi"}}},
       {"data": {"name": "psdA"}, "mark": {"type": "line", "color": "#4ba3f5", "strokeWidth": 0.9, "clip": true}, "encoding": {"x": {"field": "f", "type": "quantitative", "axis": {"orient": "bottom", "values": [0.01,0.02,0.03,0.04,0.05,0.06,0.07,0.08,0.09,0.1,0.2,0.3,0.4,0.5,0.6,0.7,0.8,0.9,1,2,3,4,5], "labelExpr": "datum.value == 0.01 ? '0.01' : datum.value == 0.1 ? '0.1' : datum.value == 1 ? '1' : datum.value == 5 ? '5' : ''", "tickSize": -3, "labelPadding": 9, "title": "Freq [Hz]", "titlePadding": 8}}, "y": {"field": "p", "type": "quantitative", "scale": {"type": "log", "domain": [0.0001, 100], "nice": false}, "axis": {"orient": "left", "values": [0.0001, 0.01, 1, 100], "labelExpr": "datum.value > 50 ? '10²' : datum.value > 0.5 ? '10⁰' : datum.value > 0.005 ? '10⁻²' : '10⁻⁴'", "labelFontSize": 19, "tickSize": -4, "labelPadding": 8, "title": "PSD [mm²/Hz]", "titlePadding": 17, "minExtent": 40, "maxExtent": 40}}}},
       {"data": {"name": "smoothA"}, "mark": {"type": "line", "color": "#000000", "strokeWidth": 3.5, "clip": true}, "encoding": {"x": {"field": "f", "type": "quantitative", "axis": null}, "y": {"field": "p", "type": "quantitative", "axis": null}}},
       {"data": {"name": "psdA"}, "mark": {"type": "line", "opacity": 0, "clip": true}, "encoding": {"x": {"field": "f", "type": "quantitative", "axis": {"orient": "top", "values": [0.01,0.02,0.03,0.04,0.05,0.06,0.07,0.08,0.09,0.1,0.2,0.3,0.4,0.5,0.6,0.7,0.8,0.9,1,2,3,4,5], "labels": false, "tickSize": -3, "title": null, "minExtent": 0, "maxExtent": 0}}, "y": {"field": "p", "type": "quantitative", "axis": {"orient": "right", "values": [0.0001, 0.01, 1, 100], "labels": false, "tickSize": -4, "title": null, "minExtent": 0, "maxExtent": 0}}}}
      ],
      "resolve": {"axis": {"x": "independent", "y": "independent"}}
     },
     {"width": 119, "height": 103,
      "layer": [
       {"data": {"name": "h4"}, "mark": {"type": "rect", "color": "#08087f", "stroke": "#3d3dd0", "strokeWidth": 0.6}, "encoding": {"x": {"field": "lo", "type": "quantitative", "scale": {"domain": [-35, 35], "range": [-13, 119], "nice": false, "zero": false}, "axis": {"orient": "bottom", "values": [-20, 0, 20], "tickSize": -3, "labelPadding": 8, "title": "CoP [mm]", "titlePadding": 13}}, "x2": {"field": "hi"}, "y": {"field": "v", "type": "quantitative", "scale": {"domain": [0, 0.3], "nice": false}, "axis": {"orient": "left", "offset": 13, "values": [0, 0.1, 0.2, 0.3], "format": "~g", "tickSize": -4, "labelPadding": 8, "title": "frequency", "titlePadding": 14, "minExtent": 28, "maxExtent": 28}}, "y2": {"datum": 0}}},
       {"data": {"name": "h4"}, "mark": {"type": "point", "opacity": 0}, "encoding": {"x": {"field": "lo", "type": "quantitative", "axis": {"orient": "top", "values": [-20, 0, 20], "labels": false, "tickSize": -3, "title": null, "minExtent": 0, "maxExtent": 0}}, "y": {"field": "v", "type": "quantitative", "axis": {"orient": "right", "values": [0.1, 0.2], "labels": false, "tickSize": -4, "title": null, "minExtent": 0, "maxExtent": 0}}}}
      ],
      "resolve": {"axis": {"x": "independent", "y": "independent"}}
     }
    ]},
    {"columns": 1, "align": "none", "spacing": 41, "concat": [
     {"width": 120, "height": 326,
      "title": {"text": "subject B", "font": "Liberation Sans", "fontSize": 22, "fontWeight": "normal", "offset": 3, "color": "#111"},
      "layer": [
       {"data": {"name": "band"}, "mark": {"type": "rect", "color": "#dcdcdc"}, "encoding": {"x": {"field": "lo", "type": "quantitative", "scale": {"type": "log", "domain": [0.01, 5], "nice": false}, "axis": null}, "x2": {"field": "hi"}}},
       {"data": {"name": "psdB"}, "mark": {"type": "line", "color": "#4ba3f5", "strokeWidth": 0.9, "clip": true}, "encoding": {"x": {"field": "f", "type": "quantitative", "axis": {"orient": "bottom", "values": [0.01,0.02,0.03,0.04,0.05,0.06,0.07,0.08,0.09,0.1,0.2,0.3,0.4,0.5,0.6,0.7,0.8,0.9,1,2,3,4,5], "labelExpr": "datum.value == 0.01 ? '0.01' : datum.value == 0.1 ? '0.1' : datum.value == 1 ? '1' : datum.value == 5 ? '5' : ''", "tickSize": -3, "labelPadding": 9, "title": "Freq [Hz]", "titlePadding": 8}}, "y": {"field": "p", "type": "quantitative", "scale": {"type": "log", "domain": [0.0001, 100], "nice": false}, "axis": {"orient": "left", "values": [0.0001, 0.01, 1, 100], "labelExpr": "datum.value > 50 ? '10²' : datum.value > 0.5 ? '10⁰' : datum.value > 0.005 ? '10⁻²' : '10⁻⁴'", "labelFontSize": 19, "tickSize": -4, "labelPadding": 8, "title": "PSD [mm²/Hz]", "titlePadding": 17, "minExtent": 40, "maxExtent": 40}}}},
       {"data": {"name": "smoothB"}, "mark": {"type": "line", "color": "#000000", "strokeWidth": 3.5, "clip": true}, "encoding": {"x": {"field": "f", "type": "quantitative", "axis": null}, "y": {"field": "p", "type": "quantitative", "axis": null}}},
       {"data": {"name": "psdB"}, "mark": {"type": "line", "opacity": 0, "clip": true}, "encoding": {"x": {"field": "f", "type": "quantitative", "axis": {"orient": "top", "values": [0.01,0.02,0.03,0.04,0.05,0.06,0.07,0.08,0.09,0.1,0.2,0.3,0.4,0.5,0.6,0.7,0.8,0.9,1,2,3,4,5], "labels": false, "tickSize": -3, "title": null, "minExtent": 0, "maxExtent": 0}}, "y": {"field": "p", "type": "quantitative", "axis": {"orient": "right", "values": [0.0001, 0.01, 1, 100], "labels": false, "tickSize": -4, "title": null, "minExtent": 0, "maxExtent": 0}}}}
      ],
      "resolve": {"axis": {"x": "independent", "y": "independent"}}
     },
     {"width": 119, "height": 103,
      "layer": [
       {"data": {"name": "h5"}, "mark": {"type": "rect", "color": "#08087f", "stroke": "#3d3dd0", "strokeWidth": 0.6}, "encoding": {"x": {"field": "lo", "type": "quantitative", "scale": {"domain": [-35, 35], "range": [-13, 119], "nice": false, "zero": false}, "axis": {"orient": "bottom", "values": [-20, 0, 20], "tickSize": -3, "labelPadding": 8, "title": "CoP [mm]", "titlePadding": 13}}, "x2": {"field": "hi"}, "y": {"field": "v", "type": "quantitative", "scale": {"domain": [0, 0.3], "nice": false}, "axis": {"orient": "left", "offset": 13, "values": [0, 0.1, 0.2, 0.3], "format": "~g", "tickSize": -4, "labelPadding": 8, "title": "frequency", "titlePadding": 14, "minExtent": 28, "maxExtent": 28}}, "y2": {"datum": 0}}},
       {"data": {"name": "h5"}, "mark": {"type": "point", "opacity": 0}, "encoding": {"x": {"field": "lo", "type": "quantitative", "axis": {"orient": "top", "values": [-20, 0, 20], "labels": false, "tickSize": -3, "title": null, "minExtent": 0, "maxExtent": 0}}, "y": {"field": "v", "type": "quantitative", "axis": {"orient": "right", "values": [0.1, 0.2], "labels": false, "tickSize": -4, "title": null, "minExtent": 0, "maxExtent": 0}}}}
      ],
      "resolve": {"axis": {"x": "independent", "y": "independent"}}
     }
    ]}
   ]
  }
 ]
}
